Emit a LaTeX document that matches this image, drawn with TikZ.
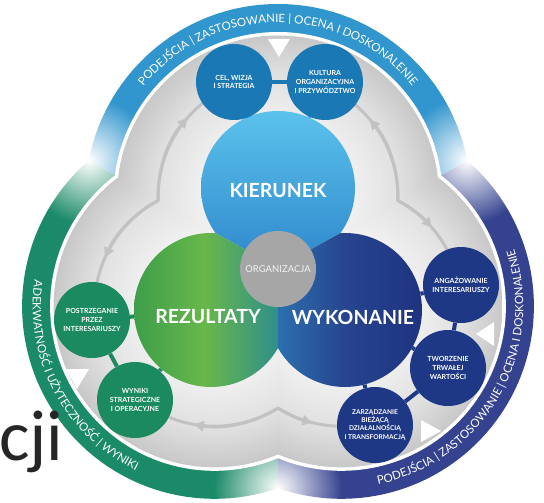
\documentclass[tikz,border=0pt]{standalone}
\usepackage{fontspec}
\setmainfont{Lato}
\newfontfamily\calibfont{Carlito}
\usetikzlibrary{calc,decorations.text,fadings,arrows.meta}
\pgfdeclarelayer{back}
\pgfdeclarelayer{conn}
\pgfsetlayers{back,conn,main}
\definecolor{bandT}{HTML}{3195CE}
\definecolor{bandL}{HTML}{1B8A68}
\definecolor{bandR}{HTML}{34428F}
\definecolor{smT}{HTML}{1A79B5}
\definecolor{smL}{HTML}{1B8A5E}
\definecolor{smR}{HTML}{1F3886}
\definecolor{orgc}{HTML}{A6A6A6}
\definecolor{arrowgray}{HTML}{C2C2C2}
\definecolor{plateA}{HTML}{E0E0E0}
\definecolor{plateB}{HTML}{C8C8C8}
\definecolor{kTop}{HTML}{5BC2EC}
\definecolor{kBot}{HTML}{2F88CC}
\definecolor{rz1}{HTML}{3E9E4A}
\definecolor{rz2}{HTML}{68B74A}
\definecolor{rz3}{HTML}{2E8F8A}
\definecolor{w1}{HTML}{2C6FAE}
\definecolor{w2}{HTML}{27458F}
\definecolor{w3}{HTML}{1F3380}
\pgfdeclareradialshading{plateshade}{\pgfpoint{0bp}{0bp}}{color(0bp)=(white);color(12bp)=(white!50!plateA);color(19bp)=(plateA);color(25bp)=(plateB);color(50bp)=(plateB)}
\pgfdeclarehorizontalshading{rzshade}{100bp}{color(0bp)=(rz1);color(25bp)=(rz1);color(48bp)=(rz2);color(72bp)=(rz3);color(100bp)=(rz3)}
\pgfdeclarehorizontalshading{wshade}{100bp}{color(0bp)=(w1);color(28bp)=(w1);color(50bp)=(w2);color(75bp)=(w3);color(100bp)=(w3)}
\tikzfading[name=blobfade, inner color=transparent!0, outer color=transparent!100]
\newcommand\ringfont{\fontsize{11.5}{11.5}\selectfont}
\begin{document}
\begin{tikzpicture}[x=1pt,y=-1pt,
  smallc/.style={circle, minimum size=76pt, inner sep=0pt, align=center, text=white, font=\fontsize{7}{8.6}\selectfont\bfseries},
  bigc/.style={circle, minimum size=154pt, inner sep=0pt},
  biglab/.style={text=white, font=\fontsize{19.5}{19.5}\selectfont\bfseries, inner sep=0pt},
  conn/.style={line width=4pt},
  garrow/.style={draw=arrowgray, line width=3pt, line cap=round},
  gtip/.style={-{Triangle[length=10pt,width=10pt]}},
  ringtext/.style={decorate, decoration={text along path, text format delimiters={[}{]}, text align=center, text color=white, text={#1}}}
]
\useasboundingbox (0,0) rectangle (544,503);
\coordinate (O) at (278,269.7);
\coordinate (T) at (278,196.5);
\coordinate (L) at (214.6,306.3);
\coordinate (R) at (341.4,306.3);
\coordinate (OB) at (278,267.4);
\coordinate (jl) at ($(O)+(210:218.4)$);
\coordinate (jr) at ($(O)+(330:218.4)$);
\coordinate (jb) at ($(O)+(90:218.4)$);
\coordinate (kl) at ($(O)+(210:138.4)$);
\coordinate (kr) at ($(O)+(330:138.4)$);
\coordinate (kb) at ($(O)+(90:138.4)$);

\begin{pgfonlayer}{back}
\fill[white] (0,0) rectangle (544,503);
\foreach \c/\a/\col in {T/270/bandT, L/150/bandL, R/30/bandR} {
  \begin{scope}
    \clip (O) -- ($(O)+({\a-60}:700)$) -- ($(O)+(\a:800)$) -- ($(O)+({\a+60}:700)$) -- cycle;
    \fill[\col] (\c) circle (192.5);
  \end{scope}
}
\foreach \j in {jl,jr,jb} \fill[white, path fading=blobfade] (\j) circle (64);
\fill[white] (T) circle (164.5) (L) circle (164.5) (R) circle (164.5);
\foreach \c/\a in {T/270, L/150, R/30} {
  \begin{scope}
    \clip (O) -- ($(O)+({\a-60}:700)$) -- ($(O)+(\a:800)$) -- ($(O)+({\a+60}:700)$) -- cycle;
    \shade[shading=plateshade] (\c) circle (161);
  \end{scope}
}
% gray cycle arrows
\draw[garrow] (kl) arc[start angle=178.1, end angle=231, radius=120];
\draw[garrow,gtip] (kl) arc[start angle=178.1, end angle=221, radius=120];
\draw[garrow] (kl) arc[start angle=241.9, end angle=191.5, radius=120];
\draw[garrow,gtip] (kl) arc[start angle=241.9, end angle=204, radius=120];
\draw[garrow] (kr) arc[start angle=1.9, end angle=-49.5, radius=120];
\draw[garrow,gtip] (kr) arc[start angle=1.9, end angle=-40, radius=120];
\draw[garrow] (kr) arc[start angle=-61.9, end angle=-28, radius=120];
\draw[garrow,gtip] (kr) arc[start angle=-61.9, end angle=-41, radius=120];
\draw[garrow] (kb) arc[start angle=58.1, end angle=112, radius=120];
\draw[garrow,gtip] (kb) arc[start angle=58.1, end angle=100, radius=120];
\draw[garrow] (kb) arc[start angle=121.9, end angle=92, radius=120];
\draw[garrow,gtip] (kb) arc[start angle=121.9, end angle=104, radius=120];
% white triangles
\fill[white] (268,39) -- (290,39) -- (279,57) -- cycle;
\fill[white] (476,334) -- (494,322) -- (494,346) -- cycle;
\fill[white] (421,420) -- (421,442) -- (441,431) -- cycle;
\fill[white] (66,369) -- (89,369) -- (77,389) -- cycle;
\end{pgfonlayer}

% big circles
\node[bigc] (kier) at (278,188) {};
\node[bigc] (rez) at (211,310) {};
\node[bigc] (wyk) at (345,310) {};
\begin{scope}
  \clip (OB) -- ($(OB)+(208.8:400)$) -- ($(OB)+(270:400)$) -- ($(OB)+(331.2:400)$) -- cycle;
  \shade[top color=kTop, bottom color=kBot] (kier.center) circle (77);
\end{scope}
\begin{scope}
  \clip (OB) -- ($(OB)+(90:400)$) -- ($(OB)+(150:400)$) -- ($(OB)+(208.8:400)$) -- cycle;
  \shade[shading=rzshade] (rez.center) circle (77);
\end{scope}
\begin{scope}
  \clip (OB) -- ($(OB)+(331.2:400)$) -- ($(OB)+(30:400)$) -- ($(OB)+(90:400)$) -- cycle;
  \shade[shading=wshade] (wyk.center) circle (77);
\end{scope}
\node[biglab] (lkier) at (278,191) {KIERUNEK};
\node[biglab] (lrez) at (208,317) {REZULTATY};
\node[biglab] (lwyk) at (353,317) {WYKONANIE};
\node[circle, fill=orgc, minimum size=76pt, inner sep=0pt, text=white!90!gray, font=\fontsize{9.5}{9.5}\selectfont] (org) at (278,269) {ORGANIZACJA};

% small circles
\node[smallc, fill=smT] (cel) at (234,82) {CEL, WIZJA\\I STRATEGIA};
\node[smallc, fill=smT] (kult) at (325,82) {KULTURA\\ORGANIZACYJNA\\I PRZYWÓDZTWO};
\node[smallc, fill=smL] (post) at (92,320) {POSTRZEGANIE\\PRZEZ\\INTERESARIUSZY};
\node[smallc, fill=smL] (wyn) at (135,400) {WYNIKI\\STRATEGICZNE\\I OPERACYJNE};
\node[smallc, fill=smR] (ang) at (461,285) {ANGAŻOWANIE\\INTERESARIUSZY};
\node[smallc, fill=smR] (two) at (448,368) {TWORZENIE\\TRWAŁEJ\\WARTOŚCI};
\node[smallc, fill=smR, font=\fontsize{6.6}{8.2}\selectfont\bfseries] (zar) at (375,425) {ZARZĄDZANIE\\BIEŻĄCĄ\\DZIAŁALNOŚCIĄ\\I TRANSFORMACJĄ};

\begin{pgfonlayer}{conn}
\draw[conn, smT] (cel) -- (kult);
\draw[conn, smT] (cel) -- (kier);
\draw[conn, smT] (kult) -- (kier);
\draw[conn, smL] (post) -- (rez);
\draw[conn, smL] (post) -- (wyn);
\draw[conn, smL] (wyn) -- (rez);
\draw[conn, smR] (ang) -- (wyk);
\draw[conn, smR] (ang) -- (two);
\draw[conn, smR] (two) -- (wyk);
\draw[conn, smR] (two) -- (zar);
\draw[conn, smR] (zar) -- (wyk);
\end{pgfonlayer}

% ring texts
\path[ringtext={[\ringfont]PODEJŚCIA | ZASTOSOWANIE | OCENA I DOSKONALENIE}] ($(T)+(200:174)$) arc[start angle=200, end angle=340, radius=174];
\path[ringtext={[\ringfont]ADEKWATNOŚĆ I UŻYTECZNOŚĆ | WYNIKI}] ($(L)+(220:182)$) arc[start angle=220, end angle=84, radius=182];
\path[ringtext={[\ringfont]PODEJŚCIA | ZASTOSOWANIE | OCENA I DOSKONALENIE}] ($(R)+(105:182)$) arc[start angle=105, end angle=-45, radius=182];

\node[font=\calibfont\fontsize{72}{72}\selectfont, text=black!85, anchor=base west, inner sep=0pt] (cji) at (-1,460) {cji};
\end{tikzpicture}
\end{document}
